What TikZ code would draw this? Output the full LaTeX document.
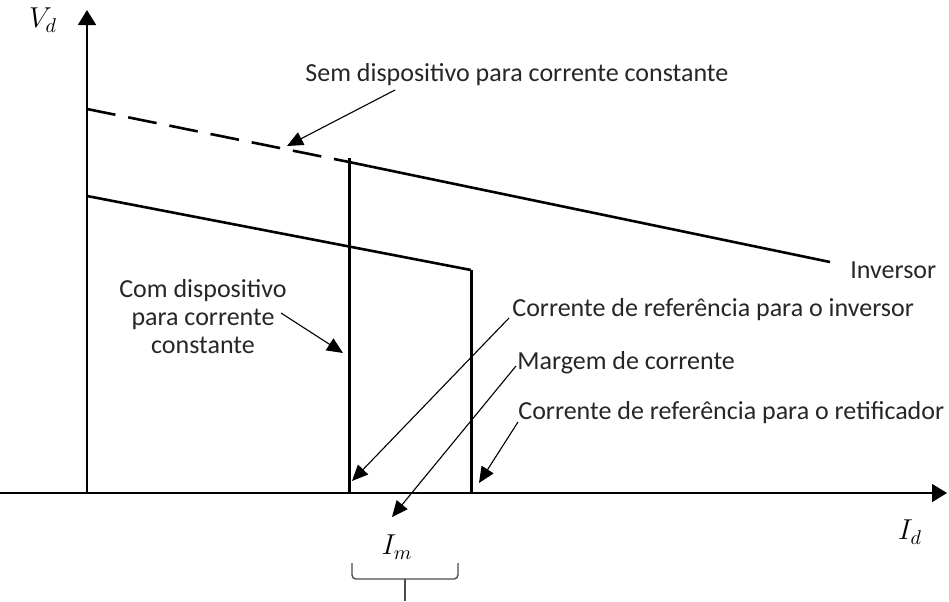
\documentclass[tikz,border=0pt]{standalone}
\usepackage{fontspec}
\setmainfont{Carlito}
\usetikzlibrary{arrows.meta}
\tikzset{
  axis/.style={line width=0.8pt,-{Triangle[length=7.5pt,width=9pt]}},
  curve/.style={line width=1.3pt},
  vline/.style={line width=1.5pt},
  pointer/.style={line width=0.55pt,-{Triangle[length=8pt,width=7pt]}},
  lbl/.style={font=\fontsize{13}{14}\selectfont, text=black!85, inner sep=0pt},
  mlbl/.style={font=\fontsize{14}{16}\selectfont, inner sep=0pt},
}
\begin{document}
\begin{tikzpicture}[x=0.5pt,y=-0.5pt]
\useasboundingbox (0,0) rectangle (949,601);
% axes
\coordinate (O) at (87,493);
\coordinate (ytop) at (87,10);
\coordinate (xl) at (0,493);
\coordinate (xr) at (947,493);
\draw[axis] (O) -- (ytop);
\draw[axis] (xl) -- (xr);
\node[mlbl] (Vd) at (43,20) {$V_d$};
\node[mlbl] (Id) at (910,532) {$I_d$};
% characteristic points
\coordinate (d0) at (87,109);
\coordinate (a1) at (349,162);
\coordinate (a2) at (830,262);
\coordinate (b0) at (87,196);
\coordinate (b1) at (471,270);
\coordinate (a0) at (349,493);
\coordinate (b2) at (471,493);
\draw[curve, dash pattern=on 14.5pt off 6.5pt] (d0) -- (a1);
\draw[curve] (a1) -- (a2);
\draw[curve] (b0) -- (b1);
\draw[vline] ([yshift=2pt]a1) -- (a0);
\draw[vline] (b1) -- (b2);
% labels
\node[lbl, anchor=west] (sem) at (305,75) {Sem dispositivo para corrente constante};
\node[lbl, align=center] (com) at (203,317) {Com dispositivo\\para corrente\\constante};
\node[lbl, anchor=west] (inv) at (850,270) {Inversor};
\node[lbl, anchor=west] (cri) at (512,310) {Corrente de referência para o inversor};
\node[lbl, anchor=west] (mar) at (517,363) {Margem de corrente};
\node[lbl, anchor=west] (crr) at (518,413) {Corrente de referência para o retificador};
\node[mlbl] (Im) at (397,547) {$I_m$};
% pointers
\coordinate (p1s) at (395,90);  \coordinate (p1t) at (287,146);
\coordinate (p2s) at (281,313); \coordinate (p2t) at (343,353);
\coordinate (p3s) at (509,318); \coordinate (p3t) at (352,481);
\coordinate (p4s) at (516,366); \coordinate (p4t) at (392,517);
\coordinate (p5s) at (518,422); \coordinate (p5t) at (479,483);
\draw[pointer] (p1s) -- (p1t);
\draw[pointer] (p2s) -- (p2t);
\draw[pointer] (p3s) -- (p3t);
\draw[pointer] (p4s) -- (p4t);
\draw[pointer] (p5s) -- (p5t);
% brace
\coordinate (br1) at (352,563);
\coordinate (br2) at (458,563);
\coordinate (brm) at (405,579);
\coordinate (brb) at (405,601);
\draw[line width=0.7pt, black!70, rounded corners=2pt] (br1) -- (352,579) -- (458,579) -- (br2);
\draw[line width=0.7pt, black!70, rounded corners=2pt] (brm) -- (brb);
\end{tikzpicture}
\end{document}
